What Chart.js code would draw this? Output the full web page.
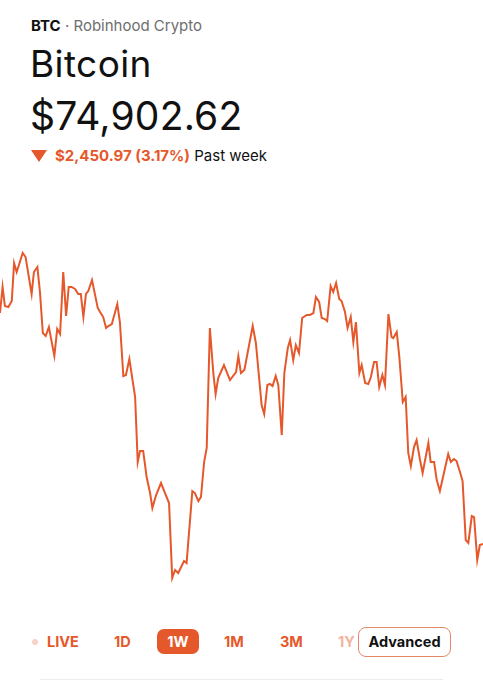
<!DOCTYPE html>
<html>
<head>
<meta charset="utf-8">
<script src="https://cdn.jsdelivr.net/npm/chart.js@4/dist/chart.umd.min.js"></script>
<style>
  html, body { margin: 0; padding: 0; background: #fff; width: 483px; height: 680px; overflow: hidden; font-family: Inter, "Noto Sans", sans-serif; }
  .abs { position: absolute; white-space: nowrap; }
  #sub { left: 31px; top: 16px; font-size: 15px; color: #6e6e6e; }
  #sub b { color: #111; font-weight: 700; }
  #name { left: 30px; top: 41px; font-size: 37px; letter-spacing: 0.4px; color: #111; }
  #price { left: 30px; top: 92px; font-size: 39px; letter-spacing: 0.2px; color: #111; }
  #chg { left: 31px; top: 146px; font-size: 15px; color: #111; }
  #chg .tri { display: inline-block; width: 0; height: 0; border-left: 8px solid transparent; border-right: 8px solid transparent; border-top: 12px solid #E5582B; margin-right: 8px; vertical-align: -1px; }
  #chg .val { color: #E5582B; font-weight: 700; }
  #wrap { position: absolute; left: 0; top: 200px; width: 483px; height: 400px; }
  .btn { position: absolute; top: 633px; font-size: 14.5px; font-weight: 700; color: #E5582B; }
  #dot { position: absolute; left: 32px; top: 639px; width: 6px; height: 6px; border-radius: 50%; background: #f6d3c6; }
  #w1 { position: absolute; left: 157px; top: 629px; width: 42px; height: 25px; border-radius: 7px; background: #E5582B; color: #fff; font-size: 14.5px; font-weight: 700; text-align: center; line-height: 25px; }
  #adv { position: absolute; left: 358px; top: 627px; width: 91px; height: 28px; border: 1.3px solid #E28A68; border-radius: 8px; background: #fff; color: #111; font-size: 14.5px; font-weight: 700; text-align: center; line-height: 28px; }
  #rule { position: absolute; left: 40px; top: 679px; width: 403px; height: 1px; background: #ececec; }
</style>
</head>
<body>
<div id="sub" class="abs"><b>BTC</b> · Robinhood Crypto</div>
<div id="name" class="abs">Bitcoin</div>
<div id="price" class="abs">$74,902.62</div>
<div id="chg" class="abs"><span class="tri"></span><span class="val">$2,450.97 (3.17%)</span> Past week</div>

<div id="wrap"><canvas id="c"></canvas></div>

<div id="dot"></div>
<div class="btn" style="left:47px">LIVE</div>
<div class="btn" style="left:114px">1D</div>
<div id="w1">1W</div>
<div class="btn" style="left:224px">1M</div>
<div class="btn" style="left:280px">3M</div>
<div class="btn" style="left:338px; opacity:0.45">1Y</div>
<div id="adv">Advanced</div>
<div id="rule"></div>

<script>
// Hours since start of the week
const hours = [0,0.9,1.7,2.9,4.1,4.9,5.8,7.9,8.9,11.0,11.8,13.0,13.9,14.9,15.9,17.0,18.9,19.9,20.9,22.0,23.0,23.9,24.9,26.1,27.2,28.1,29.0,29.9,30.7,32.0,34.0,34.8,35.9,36.9,37.7,38.9,40.8,41.7,42.9,43.8,45.0,47.0,47.9,48.7,49.8,51.0,52.2,53.0,54.3,56.0,57.4,58.8,59.9,60.9,62.0,64.0,64.9,66.9,67.8,69.0,69.9,71.0,71.9,73.0,74.2,75.0,75.9,77.9,80.0,82.1,82.9,83.8,85.0,87.9,89.0,91.0,91.9,93.0,93.9,94.8,95.9,96.8,98.0,98.9,100.1,100.9,102.0,102.9,104.0,105.1,106.7,107.8,109.0,109.9,111.0,111.9,113.0,113.8,115.0,115.9,116.9,118.0,118.8,120.0,120.9,122.0,122.9,123.8,125.0,125.8,127.0,128.1,129.0,130.1,131.0,131.9,133.0,133.9,135.1,136.2,136.8,138.0,138.9,140.1,141.1,142.0,142.9,144.0,144.9,146.1,147.0,149.0,149.8,151.0,151.9,153.0,155.9,156.8,157.9,158.8,160.0,160.9,162.0,162.9,164.1,164.9,166.0,166.9,168.0];
// BTC price (USD)
const prices = [77354,77630,77428,77418,77481,77884,77789,77991,77948,77556,77789,77842,77577,77142,77110,77205,76898,77184,77131,77789,77322,77630,77630,77609,77556,77556,77311,77556,77587,77704,77407,77365,77311,77195,77216,77237,77449,77258,76685,76696,76866,76463,75773,75890,75890,75614,75444,75285,75423,75550,75444,75338,74542,74627,74595,74723,74701,75465,75444,75359,75402,75773,75922,77195,76717,76495,76664,76802,76643,76728,76898,76717,76749,77216,77036,76378,76282,76590,76601,76579,76685,76590,76059,76717,76983,77067,76855,77014,76930,77301,77333,77333,77354,77524,77471,77301,77290,77269,77640,77577,77672,77502,77481,77365,77195,77311,77046,77258,76717,76802,76611,76601,76675,76834,76834,76569,76696,76590,77343,77099,77088,77152,76887,76410,76463,75869,75731,75932,76006,75794,75656,75975,75773,75773,75582,75465,75858,75773,75805,75784,75667,75571,74945,74914,75200,75189,74733,74892,74903];

const points = hours.map((h, i) => ({ x: h, y: prices[i] }));

new Chart(document.getElementById('c'), {
  type: 'line',
  data: {
    datasets: [{
      data: points,
      borderColor: '#E5582B',
      borderWidth: 2,
      pointRadius: 0,
      tension: 0,
      fill: false
    }]
  },
  options: {
    responsive: true,
    maintainAspectRatio: false,
    animation: false,
    layout: { padding: 0 },
    plugins: { legend: { display: false }, tooltip: { enabled: false } },
    scales: {
      x: { type: 'linear', display: false, min: 0, max: 168 },
      y: { display: false, min: 74309, max: 78553 }
    }
  }
});
</script>
</body>
</html>
